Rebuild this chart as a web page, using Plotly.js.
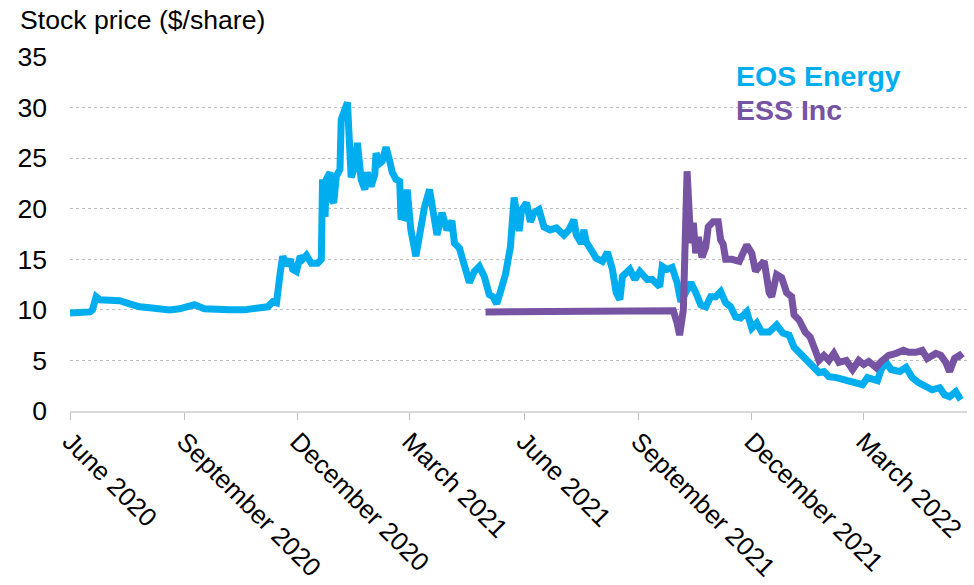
<!DOCTYPE html>
<html>
<head>
<meta charset="utf-8">
<script src="https://cdn.plot.ly/plotly-3.0.1.min.js"></script>
<style>html,body{margin:0;padding:0;background:#fff;}#chart{width:974px;height:585px;}</style>
</head>
<body>
<div id="chart"></div>
<script>
// EOS Energy (cyan)
const eosDates = ["2020-06-01","2020-06-09","2020-06-17","2020-06-19","2020-06-22","2020-06-25","2020-07-03","2020-07-11","2020-07-19","2020-07-27","2020-08-04","2020-08-12","2020-08-20","2020-08-28","2020-09-04","2020-09-09","2020-09-17","2020-09-25","2020-10-07","2020-10-19","2020-10-31","2020-11-07","2020-11-11","2020-11-14","2020-11-17","2020-11-19","2020-11-22","2020-11-25","2020-11-27","2020-11-30","2020-12-03","2020-12-05","2020-12-08","2020-12-12","2020-12-17","2020-12-20","2020-12-21","2020-12-23","2020-12-24","2020-12-27","2020-12-28","2020-12-30","2021-01-01","2021-01-04","2021-01-05","2021-01-08","2021-01-10","2021-01-13","2021-01-16","2021-01-18","2021-01-21","2021-01-24","2021-01-26","2021-01-29","2021-02-01","2021-02-02","2021-02-05","2021-02-07","2021-02-10","2021-02-13","2021-02-15","2021-02-18","2021-02-21","2021-02-22","2021-02-25","2021-02-27","2021-03-02","2021-03-06","2021-03-09","2021-03-13","2021-03-17","2021-03-21","2021-03-23","2021-03-27","2021-03-31","2021-04-04","2021-04-06","2021-04-10","2021-04-14","2021-04-18","2021-04-22","2021-04-26","2021-04-30","2021-05-04","2021-05-07","2021-05-10","2021-05-13","2021-05-17","2021-05-21","2021-05-24","2021-05-28","2021-05-30","2021-06-03","2021-06-06","2021-06-09","2021-06-13","2021-06-17","2021-06-22","2021-06-27","2021-07-03","2021-07-07","2021-07-11","2021-07-13","2021-07-17","2021-07-19","2021-07-21","2021-07-25","2021-07-29","2021-08-03","2021-08-07","2021-08-11","2021-08-14","2021-08-17","2021-08-19","2021-08-25","2021-08-29","2021-09-02","2021-09-08","2021-09-12","2021-09-18","2021-09-20","2021-09-24","2021-09-28","2021-10-02","2021-10-05","2021-10-09","2021-10-13","2021-10-17","2021-10-21","2021-10-25","2021-10-29","2021-11-02","2021-11-06","2021-11-10","2021-11-14","2021-11-18","2021-11-22","2021-11-27","2021-12-01","2021-12-05","2021-12-09","2021-12-15","2021-12-21","2021-12-26","2021-12-31","2022-01-04","2022-01-08","2022-01-14","2022-01-19","2022-01-24","2022-01-28","2022-02-01","2022-02-07","2022-02-12","2022-02-17","2022-02-23","2022-02-28","2022-03-04","2022-03-08","2022-03-12","2022-03-15","2022-03-19","2022-03-23","2022-03-30","2022-04-04","2022-04-09","2022-04-14","2022-04-20","2022-04-25","2022-05-01","2022-05-05","2022-05-09","2022-05-14","2022-05-18"];
const eosPrice = [9.7,9.8,9.8,10.0,11.3,11.0,11.0,10.9,10.6,10.3,10.2,10.1,10.0,10.1,10.3,10.5,10.1,10.0,10.0,10.0,10.1,10.3,10.8,10.7,13.7,15.3,14.4,15.0,14.0,13.8,15.3,15.0,15.4,14.6,14.6,15.0,22.9,19.2,22.9,23.6,20.9,20.6,23.2,23.9,28.8,30.0,30.5,23.1,24.2,26.5,22.9,21.9,23.6,22.2,23.4,25.5,24.5,24.7,26.1,24.7,23.6,22.9,22.7,19.2,19.1,21.9,17.9,15.3,17.9,20.2,21.9,19.4,17.4,19.6,17.9,18.8,16.6,16.1,14.4,12.7,13.8,14.3,13.3,11.5,11.3,10.6,11.8,13.5,16.2,21.1,17.8,19.9,20.6,18.7,19.6,19.9,18.2,17.9,18.1,17.4,17.9,18.9,17.4,16.6,17.9,16.7,15.9,15.1,14.8,15.7,14.0,11.7,11.0,13.3,14.0,13.0,13.8,13.0,13.0,12.3,14.3,14.0,14.2,12.7,10.8,11.7,12.7,11.7,10.5,10.3,11.3,11.3,11.8,10.7,10.3,9.3,9.2,9.8,8.2,8.7,7.8,7.8,8.5,7.7,7.5,6.3,5.8,5.2,4.4,3.8,3.9,3.4,3.3,3.1,2.9,2.8,2.6,3.3,3.1,3.0,4.1,4.8,4.1,3.9,4.3,3.3,2.8,2.4,2.1,2.3,1.6,1.4,1.9,1.1];

// ESS Inc (purple)
const essDates = ["2021-05-01","2021-05-11","2021-06-04","2021-06-28","2021-07-30","2021-09-01","2021-09-25","2021-09-29","2021-10-02","2021-10-04","2021-10-07","2021-10-10","2021-10-13","2021-10-15","2021-10-17","2021-10-19","2021-10-22","2021-10-25","2021-10-27","2021-10-31","2021-11-04","2021-11-06","2021-11-08","2021-11-10","2021-11-15","2021-11-21","2021-11-25","2021-11-27","2021-12-01","2021-12-04","2021-12-07","2021-12-11","2021-12-15","2021-12-17","2021-12-21","2021-12-25","2021-12-29","2022-01-02","2022-01-04","2022-01-08","2022-01-13","2022-01-17","2022-01-21","2022-01-24","2022-01-28","2022-02-01","2022-02-05","2022-02-09","2022-02-15","2022-02-20","2022-02-25","2022-03-01","2022-03-05","2022-03-11","2022-03-15","2022-03-21","2022-03-27","2022-04-02","2022-04-06","2022-04-12","2022-04-17","2022-04-21","2022-04-28","2022-05-02","2022-05-06","2022-05-09","2022-05-13","2022-05-17","2022-05-19"];
const essPrice = [9.8,9.8,9.8,9.8,9.8,9.9,9.9,9.9,8.7,7.5,10.0,23.7,16.6,18.6,15.6,17.2,15.2,16.2,18.2,18.7,18.7,16.9,16.5,15.0,15.0,14.8,15.9,16.4,15.6,13.8,14.3,14.8,11.7,11.3,13.5,13.2,11.7,11.3,9.5,9.0,7.8,7.3,6.0,5.0,5.5,5.0,5.7,4.8,5.0,4.1,5.0,4.6,4.9,4.3,4.9,5.5,5.7,6.0,5.8,5.8,6.0,5.2,5.7,5.5,4.8,3.9,5.2,5.5,5.2];

const tickDates = ["2020-06-01","2020-09-01","2020-12-01","2021-03-01","2021-06-01","2021-09-01","2021-12-01","2022-03-01"];
const tickLabels = ["June 2020","September 2020","December 2020","March 2021","June 2021","September 2021","December 2021","March 2022"];
const yTicks = [0,5,10,15,20,25,30,35];
const seriesNames = ["EOS Energy","ESS Inc"];
const seriesColors = ["#00AEEF","#7753A4"];

const FONT = "Arial, 'Liberation Sans', sans-serif";
const FS = 26.6;

const traces = [
  {x: eosDates, y: eosPrice, name: seriesNames[0], type: "scatter", mode: "lines",
   line: {color: seriesColors[0], width: 7}},
  {x: essDates, y: essPrice, name: seriesNames[1], type: "scatter", mode: "lines",
   line: {color: seriesColors[1], width: 7}}
];

const layout = {
  width: 974, height: 585,
  margin: {l: 70, r: 7, t: 57, b: 174},
  paper_bgcolor: "#fff", plot_bgcolor: "#fff",
  showlegend: false,
  font: {family: FONT, size: FS, color: "#000"},
  title: {text: "Stock price ($/share)", x: 20/974, xanchor: "left", xref: "container",
          y: 1 - 20/585, yanchor: "middle", yref: "container",
          font: {family: FONT, size: FS, color: "#000"}},
  xaxis: {
    type: "date", range: ["2020-06-01", "2022-05-23"],
    tickmode: "array", tickvals: tickDates, ticktext: tickLabels, tickangle: 45,
    showgrid: false, zeroline: false,
    showline: true, linecolor: "#D9D9D9", linewidth: 2,
    ticks: "outside", ticklen: 7, tickwidth: 1, tickcolor: "#BFBFBF",
    ticklabelstandoff: -4,
    tickfont: {family: FONT, size: 25.8, color: "#000"}
  },
  yaxis: {
    range: [0, 35], tickmode: "array", tickvals: yTicks,
    showgrid: true, gridcolor: "#BFBFBF", gridwidth: 1, griddash: "dot",
    zeroline: false, showline: false, ticks: "",
    ticklabelstandoff: 22,
    tickfont: {family: FONT, size: FS, color: "#000"}
  },
  annotations: [
    {text: "<b>" + seriesNames[0] + "</b>", xref: "paper", yref: "paper",
     x: (734-70)/897, y: (411-76)/354, xanchor: "left", yanchor: "middle", showarrow: false,
     font: {family: FONT, size: 28.5, color: seriesColors[0]}},
    {text: "<b>" + seriesNames[1] + "</b>", xref: "paper", yref: "paper",
     x: (734-70)/897, y: (411-110)/354, xanchor: "left", yanchor: "middle", showarrow: false,
     font: {family: FONT, size: 28.5, color: seriesColors[1]}}
  ]
};

Plotly.newPlot("chart", traces, layout, {displayModeBar: false, staticPlot: true});
</script>
</body>
</html>
